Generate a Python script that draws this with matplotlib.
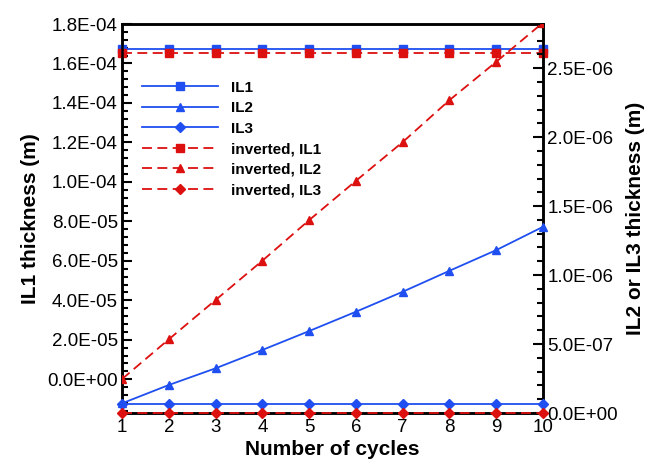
import matplotlib
matplotlib.use("Agg")
import matplotlib.pyplot as plt
from matplotlib.ticker import FuncFormatter, MultipleLocator, AutoMinorLocator

plt.rcParams['font.family'] = ['Liberation Sans', 'DejaVu Sans']

cycles = [1, 2, 3, 4, 5, 6, 7, 8, 9, 10]
il1 = [1.671e-4] * 10
il1_inv = [1.651e-4] * 10
il2 = [7.0e-8, 2.03e-7, 3.24e-7, 4.57e-7, 5.94e-7, 7.34e-7, 8.79e-7, 1.031e-6, 1.181e-6, 1.35e-6]
il2_inv = [2.46e-7, 5.34e-7, 8.19e-7, 1.104e-6, 1.398e-6, 1.683e-6, 1.964e-6, 2.268e-6, 2.546e-6, 2.83e-6]
il3 = [6.5e-8] * 10
il3_inv = [0.0] * 10

blue = '#1f4ff0'
red = '#dd1010'

fig = plt.figure(figsize=(6.5, 4.61), dpi=100)
ax = fig.add_axes([0.1877, 0.1041, 0.6477, 0.8438])
ax2 = ax.twinx()

lw = 1.3
ms = 6
dash = (5.5, 3)
h1, = ax.plot(cycles, il1, color=blue, lw=lw, marker='s', ms=ms, label='IL1', clip_on=False, zorder=3)
h4, = ax.plot(cycles, il1_inv, color=red, lw=lw, marker='s', ms=ms, dashes=dash, label='inverted, IL1', clip_on=False, zorder=3)
h2, = ax2.plot(cycles, il2, color=blue, lw=lw, marker='^', ms=ms, label='IL2', clip_on=False, zorder=3)
h3, = ax2.plot(cycles, il3, color=blue, lw=lw, marker='D', ms=ms - 0.5, label='IL3', clip_on=False, zorder=3)
h5, = ax2.plot(cycles, il2_inv, color=red, lw=lw, marker='^', ms=ms, dashes=dash, label='inverted, IL2', clip_on=True, zorder=3)
h6, = ax2.plot(cycles, il3_inv, color=red, lw=lw, marker='D', ms=ms - 0.5, dashes=dash, label='inverted, IL3', clip_on=False, zorder=3)

ax.set_xlim(1, 10)
ax.set_ylim(-1.71e-5, 1.8e-4)
ax2.set_ylim(0, 2.82e-6)

ax.xaxis.set_major_locator(MultipleLocator(1))
ax.yaxis.set_major_locator(MultipleLocator(2e-5))
ax.yaxis.set_minor_locator(AutoMinorLocator(5))
ax2.yaxis.set_major_locator(MultipleLocator(5e-7))
ax2.yaxis.set_minor_locator(AutoMinorLocator(5))

fmt = FuncFormatter(lambda v, p: f"{v:.1E}")
ax.yaxis.set_major_formatter(fmt)
ax2.yaxis.set_major_formatter(fmt)

ax.tick_params(axis='both', which='both', direction='in', labelsize=13.5, width=1.5)
ax.tick_params(axis='y', which='major', length=7, pad=3)
ax.tick_params(axis='y', which='minor', length=4)
ax.tick_params(axis='x', which='major', length=7, pad=4)
ax2.tick_params(axis='y', which='both', direction='in', labelsize=13.5, width=1.5)
ax2.tick_params(axis='y', which='major', length=7, pad=3)
ax2.tick_params(axis='y', which='minor', length=4)

for a in (ax, ax2):
    for s in a.spines.values():
        s.set_linewidth(1.8)

ax.set_xlabel('Number of cycles', fontsize=15, fontweight='bold', labelpad=3)
ax.set_ylabel('IL1 thickness (m)', fontsize=15, fontweight='bold', labelpad=5)
ax2.set_ylabel('IL2 or IL3 thickness (m)', fontsize=15, fontweight='bold', labelpad=6)

leg = ax.legend(handles=[h1, h2, h3, h4, h5, h6], loc='upper left',
                bbox_to_anchor=(0.015, 0.89), frameon=False, handlelength=5.0,
                prop={'weight': 'bold', 'size': 11}, labelspacing=0.43, handletextpad=0.8)

fig.savefig('out.png', dpi=100)
